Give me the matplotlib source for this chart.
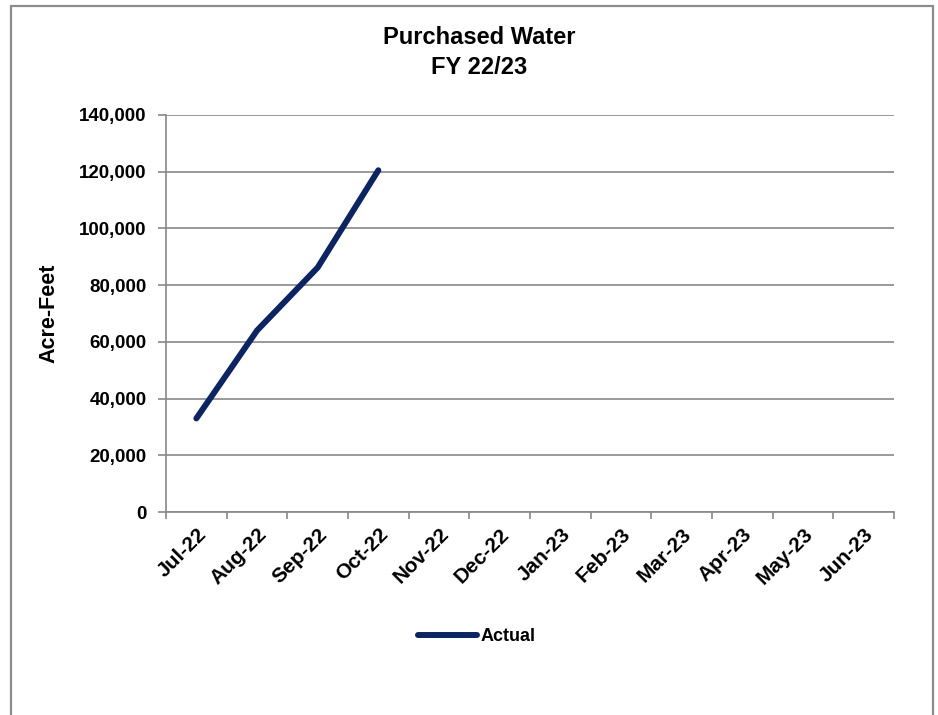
import numpy as np
import matplotlib
matplotlib.use('Agg')
import matplotlib.pyplot as plt
import matplotlib.ticker as tic
from matplotlib.patches import Rectangle

### Data
months = ['Jul-22', 'Aug-22', 'Sep-22', 'Oct-22', 'Nov-22', 'Dec-22',
          'Jan-23', 'Feb-23', 'Mar-23', 'Apr-23', 'May-23', 'Jun-23']
actual = [33000, 64000, 86200, 120500]     # only Jul..Oct reported so far
yticks = [0, 20000, 40000, 60000, 80000, 100000, 120000, 140000]

navy = '#0c2462'
grey = '#888888'
font = 'Liberation Sans'

### Figure
fig = plt.figure(figsize=(9.38, 7.15), dpi=100, facecolor='white')
ax = fig.add_axes([0.177, 0.2839, 0.776, 0.5553])

# outer chart frame (bottom edge runs off the picture)
fig.patches.append(Rectangle((11/938, -0.05), 922/938, 1 - 6/715 + 0.05,
                             transform=fig.transFigure, fill=False,
                             edgecolor='#8c8c8c', linewidth=1.6))

x = np.arange(len(actual))
ax.plot(x, actual, color=navy, linewidth=4.3, solid_capstyle='round',
        solid_joinstyle='round', label='Actual', zorder=3)

ax.set_xlim(-0.5, len(months) - 0.5)
ax.set_ylim(0, 140000)

# y axis
ax.set_yticks(yticks)
ax.yaxis.set_major_formatter(tic.FuncFormatter(lambda v, p: f'{int(v):,}'))
ax.grid(axis='y', color=grey, linewidth=1.2)
ax.set_axisbelow(True)
ax.tick_params(axis='y', length=6, width=1.2, color=grey, pad=8)
for t in ax.get_yticklabels():
    t.set_fontfamily(font)
    t.set_fontweight('bold')
    t.set_fontsize(13.5)

# x axis: ticks between categories, labels at category centres
ax.set_xticks(np.arange(len(months) + 1) - 0.5)
ax.set_xticklabels([])
ax.set_xticks(np.arange(len(months)), minor=True)
ax.set_xticklabels(months, minor=True, rotation=45, ha='right',
                   rotation_mode='anchor', fontfamily=font,
                   fontweight='bold', fontsize=15)
ax.tick_params(axis='x', which='major', length=5, width=1.2, color=grey)
ax.tick_params(axis='x', which='minor', length=0, pad=9)

for s in ['top', 'right']:
    ax.spines[s].set_visible(False)
for s in ['left', 'bottom']:
    ax.spines[s].set_color(grey)
    ax.spines[s].set_linewidth(1.2)

ax.set_ylabel('Acre-Feet', fontfamily=font, fontweight='bold',
              fontsize=15.5, labelpad=14)

fig.text(0.511, 0.947, 'Purchased Water', ha='center', va='center',
         fontfamily=font, fontweight='bold', fontsize=17)
fig.text(0.511, 0.906, 'FY 22/23', ha='center', va='center',
         fontfamily=font, fontweight='bold', fontsize=17)

leg = fig.legend(loc='center', bbox_to_anchor=(0.508, 0.11), frameon=False,
                 handlelength=3.3, handletextpad=0.15,
                 prop={'family': font, 'weight': 'bold', 'size': 13})

fig.savefig('out.png', dpi=100, facecolor='white')
